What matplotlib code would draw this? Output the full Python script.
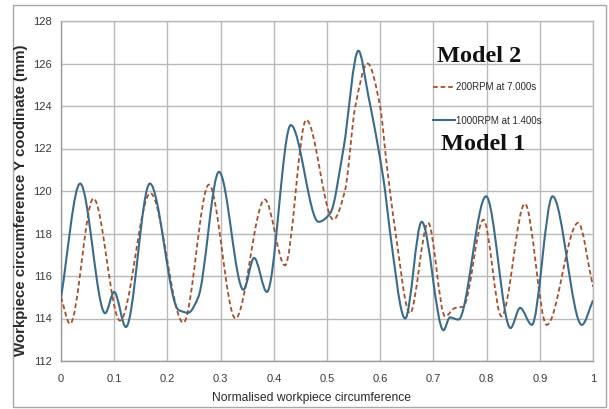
import numpy as np
import matplotlib
matplotlib.use("Agg")
import matplotlib.pyplot as plt
from matplotlib.path import Path
from matplotlib.patches import PathPatch, Rectangle
from matplotlib.lines import Line2D

# ---------------- data ----------------
x_ticks = [0, 0.1, 0.2, 0.3, 0.4, 0.5, 0.6, 0.7, 0.8, 0.9, 1]
x_tick_labels = ["0", "0.1", "0.2", "0.3", "0.4", "0.5", "0.6", "0.7", "0.8", "0.9", "1"]
y_ticks = [112, 114, 116, 118, 120, 122, 124, 126, 128]

# Model 2 : 200RPM at 7.000s (dashed)
m2_x = [0.000, 0.017, 0.061, 0.111, 0.168, 0.230, 0.278, 0.328, 0.383, 0.421,
        0.461, 0.512, 0.534, 0.553, 0.576, 0.600, 0.612, 0.628, 0.656, 0.690,
        0.722, 0.741, 0.756, 0.794, 0.828, 0.872, 0.913, 0.972, 1.000]
m2_y = [115.0, 113.75, 119.65, 113.9, 119.9, 113.8, 120.3, 114.0, 119.6, 116.5,
        123.35, 118.65, 120.05, 123.95, 126.0, 123.95, 121.3, 118.2, 114.25, 118.5,
        114.1, 114.5, 114.55, 118.65, 114.1, 119.4, 113.7, 118.5, 115.5]

# Model 1 : 1000RPM at 1.400s (solid)
m1_x = [0.000, 0.036, 0.083, 0.100, 0.122, 0.167, 0.221, 0.239, 0.258, 0.297,
        0.343, 0.363, 0.387, 0.432, 0.484, 0.506, 0.531, 0.559, 0.578, 0.5965,
        0.609, 0.618, 0.647, 0.678, 0.719, 0.731, 0.747, 0.799, 0.845, 0.863,
        0.885, 0.924, 0.979, 1.000]
m1_y = [115.0, 120.35, 114.25, 115.25, 113.6, 120.35, 114.4, 114.27, 115.0, 120.9,
        115.35, 116.85, 115.25, 123.1, 118.55, 118.95, 122.0, 126.6, 124.44, 122.0,
        120.05, 118.16, 114.0, 118.55, 113.45, 114.05, 113.95, 119.75, 113.55, 114.5,
        113.7, 119.75, 113.7, 114.85]

label_m2 = "200RPM at 7.000s"
label_m1 = "1000RPM at 1.400s"

color_m2 = "#a84f2c"
color_m1 = "#3b6b8a"


def smooth_path(xs, ys):
    """Monotone cubic (Excel-like smoothed line) as Bezier path through the read points."""
    x = np.asarray(xs, float)
    y = np.asarray(ys, float)
    h = np.diff(x)
    d = np.diff(y) / h
    n = len(x)
    m = np.zeros(n)
    m[0] = d[0]
    m[-1] = d[-1]
    for i in range(1, n - 1):
        if d[i - 1] * d[i] <= 0:
            m[i] = 0.0
        else:
            w1 = 2 * h[i] + h[i - 1]
            w2 = h[i] + 2 * h[i - 1]
            m[i] = (w1 + w2) / (w1 / d[i - 1] + w2 / d[i])
    verts = [(x[0], y[0])]
    codes = [Path.MOVETO]
    for i in range(n - 1):
        verts += [(x[i] + h[i] / 3, y[i] + m[i] * h[i] / 3),
                  (x[i + 1] - h[i] / 3, y[i + 1] - m[i + 1] * h[i] / 3),
                  (x[i + 1], y[i + 1])]
        codes += [Path.CURVE4] * 3
    return Path(verts, codes)


# ---------------- figure ----------------
W, H = 609, 409
fig = plt.figure(figsize=(W / 100, H / 100), dpi=100)
fig.patch.set_facecolor("white")

ax_l, ax_r, ax_t, ax_b = 61, 593, 21, 361
ax = fig.add_axes([ax_l / W, 1 - ax_b / H, (ax_r - ax_l) / W, (ax_b - ax_t) / H])

ax.set_xlim(0, 1)
ax.set_ylim(112, 128)
ax.set_xticks(x_ticks)
ax.set_xticklabels(x_tick_labels)
ax.set_yticks(y_ticks)

grid_c = "#b9b9b9"
ax.grid(True, color=grid_c, linewidth=1.0)
ax.set_axisbelow(True)
for s in ax.spines.values():
    s.set_color(grid_c)
    s.set_linewidth(1.0)
ax.spines["left"].set_color("#9a9a9a")
ax.spines["bottom"].set_color("#9a9a9a")

tick_font = "Liberation Sans"
ax.tick_params(axis="both", length=0, labelsize=8, labelcolor="#3a3a3a")
ax.tick_params(axis="x", pad=9)
ax.tick_params(axis="y", pad=6.5)
for lab in ax.get_xticklabels() + ax.get_yticklabels():
    lab.set_fontfamily(tick_font)

# curves
p2 = PathPatch(smooth_path(m2_x, m2_y), fill=False, edgecolor=color_m2,
               linewidth=1.3, linestyle=(0, (2.6, 1.6)), zorder=3)
p1 = PathPatch(smooth_path(m1_x, m1_y), fill=False, edgecolor=color_m1,
               linewidth=1.5, zorder=4)
ax.add_patch(p2)
ax.add_patch(p1)

# legend
handles = [Line2D([], [], color=color_m2, linewidth=1.3, linestyle=(0, (2.6, 1.6))),
           Line2D([], [], color=color_m1, linewidth=1.5)]
leg = ax.legend(handles, [label_m2, label_m1], loc="upper left",
                bbox_to_anchor=(432.5 / W, 1 - 82.3 / H), bbox_transform=fig.transFigure,
                frameon=False, borderpad=0, borderaxespad=0, handlelength=2.3,
                handletextpad=0.08, labelspacing=2.4,
                prop={"family": tick_font, "size": 7})
for t in leg.get_texts():
    t.set_color("#2a2a2a")

# Model annotations
fig.text(436.7 / W, 1 - 61.7 / H, "Model 2", family="Liberation Serif", weight="bold",
         fontsize=17.5, va="baseline", ha="left", color="#111111")
fig.text(440.7 / W, 1 - 150 / H, "Model 1", family="Liberation Serif", weight="bold",
         fontsize=17.5, va="baseline", ha="left", color="#111111")

# axis labels
fig.text(312 / W, 1 - 398 / H, "Normalised workpiece circumference",
         family="Liberation Sans", fontsize=8.75, ha="center", va="center", color="#2a2a2a")
fig.text(21 / W, 1 - 200 / H, "Workpiece circumference Y coodinate (mm)",
         family="Liberation Sans", weight="bold", fontsize=10.8, rotation=90,
         ha="center", va="center", color="#2a2a2a")

# outer frame
fig.patches.append(Rectangle((13 / W, 1 - 407 / H), (606 - 13) / W, (407 - 5) / H,
                             transform=fig.transFigure, fill=False,
                             edgecolor="#a8a8a8", linewidth=1.0))

fig.savefig("out.png", dpi=100, facecolor="white")
